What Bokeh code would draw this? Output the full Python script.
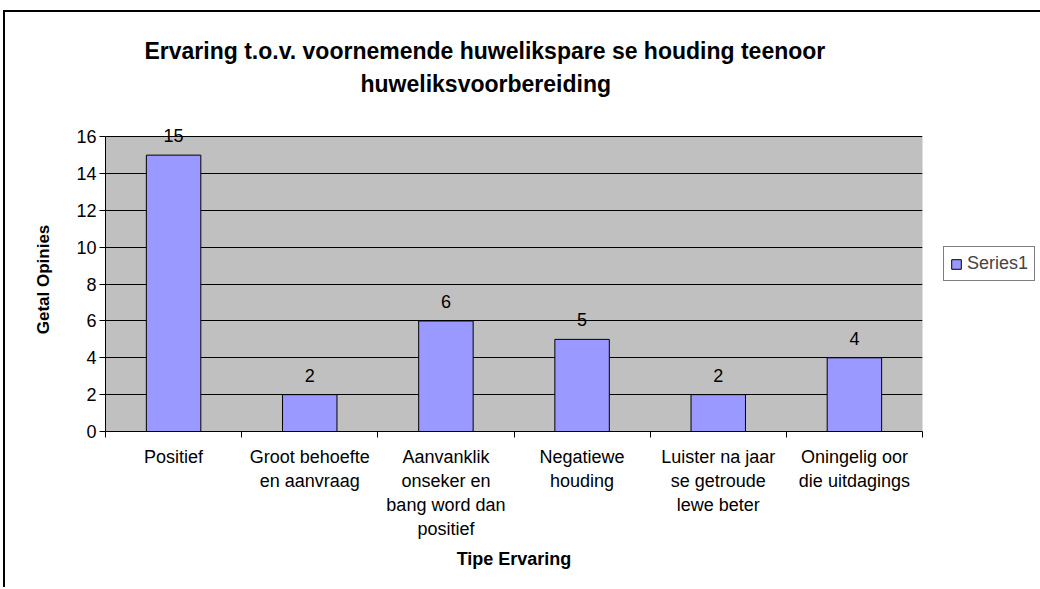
import numpy as np
from bokeh.plotting import figure
from bokeh.models import (Range1d, FixedTicker, ColumnDataSource, LabelSet, Title,
                          Legend, LegendItem, BoxAnnotation)
from bokeh.core.properties import value
from bokeh.embed import file_html
from bokeh.resources import INLINE

# ---- data ----
categories = [
    "Positief",
    "Groot behoefte\nen aanvraag",
    "Aanvanklik\nonseker en\nbang word dan\npositief",
    "Negatiewe\nhouding",
    "Luister na jaar\nse getroude\nlewe beter",
    "Oningelig oor\ndie uitdagings",
]
values = [15, 2, 6, 5, 2, 4]
y_ticks = [0, 2, 4, 6, 8, 10, 12, 14, 16]
series_name = "Series1"
title_lines = ["Ervaring t.o.v. voornemende huwelikspare se houding teenoor",
               "huweliksvoorbereiding"]
x_title = "Tipe Ervaring"
y_title = "Getal Opinies"

FONT = "Liberation Sans"
n = len(categories)
centers = [i + 0.5 for i in range(n)]
bounds = [float(i) for i in range(n + 1)]
y_top = y_ticks[-1]

src = ColumnDataSource(dict(x=centers, top=values, lbl=[str(v) for v in values]))

p = figure(frame_width=817, frame_height=304, output_backend="svg",
           toolbar_location=None, title=None,
           x_range=Range1d(0, n), y_range=Range1d(y_ticks[0], y_top + 0.5),
           min_border_left=100, min_border_right=117, min_border_top=115,
           min_border_bottom=156, margin=(10, 0, 0, 3),
           styles={"border-top": "2px solid black", "border-left": "2px solid black"})

p.background_fill_color = "white"
p.border_fill_color = "white"
p.outline_line_color = None

# grey plot area (0..16)
p.add_layout(BoxAnnotation(left=0, right=n, bottom=y_ticks[0], top=y_top,
                           fill_color="#C0C0C0", fill_alpha=1,
                           line_color="#808080", line_width=1, level="image"))

bars = p.vbar(x="x", top="top", width=0.4, bottom=0, source=src,
              fill_color="#9999FF", line_color="black", line_width=1)

# grid
p.xgrid.grid_line_color = None
p.ygrid.grid_line_color = "black"
p.ygrid.grid_line_width = 1

# y axis
p.yaxis.ticker = FixedTicker(ticks=y_ticks)
p.yaxis.bounds = (y_ticks[0], y_top)
p.yaxis.major_tick_out = 6
p.yaxis.major_tick_in = 0
p.yaxis.minor_tick_out = 0
p.yaxis.axis_line_color = "black"
p.yaxis.major_tick_line_color = "black"
p.yaxis.major_label_text_font = FONT
p.yaxis.major_label_text_font_size = "18px"
p.yaxis.major_label_text_color = "black"
p.yaxis.major_label_standoff = 3
p.yaxis.axis_label = y_title
p.yaxis.axis_label_text_font = FONT
p.yaxis.axis_label_text_font_style = "bold"
p.yaxis.axis_label_text_font_size = "17px"
p.yaxis.axis_label_text_color = "black"
p.yaxis.axis_label_standoff = 20

# x axis
p.xaxis.ticker = FixedTicker(ticks=centers, minor_ticks=bounds)
p.xaxis.major_label_overrides = {c: lab for c, lab in zip(centers, categories)}
p.xaxis.major_tick_out = 0
p.xaxis.major_tick_in = 0
p.xaxis.minor_tick_out = 6
p.xaxis.minor_tick_in = 0
p.xaxis.minor_tick_line_color = "black"
p.xaxis.axis_line_color = "black"
p.xaxis.major_label_text_font = FONT
p.xaxis.major_label_text_font_size = "18px"
p.xaxis.major_label_text_color = "black"
p.xaxis.major_label_text_line_height = 1.2
p.xaxis.major_label_standoff = 9
p.xaxis.axis_label = x_title
p.xaxis.axis_label_text_font = FONT
p.xaxis.axis_label_text_font_style = "bold"
p.xaxis.axis_label_text_font_size = "18px"
p.xaxis.axis_label_text_color = "black"
p.xaxis.axis_label_standoff = 7

# value labels
labels = LabelSet(x="x", y="top", text="lbl", source=src, text_align="center",
                  text_baseline="bottom", y_offset=13, text_font=value(FONT),
                  text_font_size="18px", text_color="black")
p.add_layout(labels)

# title: two lines, first added is nearest the frame
t2 = Title(text=title_lines[1], align="left", offset=255, standoff=62,
           text_font=FONT, text_font_style="bold", text_font_size="23px",
           text_color="black")
t1 = Title(text=title_lines[0], align="left", offset=39, standoff=-53,
           text_font=FONT, text_font_style="bold", text_font_size="23px",
           text_color="black")
p.add_layout(t2, "above")
p.add_layout(t1, "above")

# legend
legend = Legend(items=[LegendItem(label=series_name, renderers=[bars])],
                location=(21, 150), orientation="vertical",
                label_text_font=FONT, label_text_font_size="18px",
                glyph_width=12, glyph_height=12, label_standoff=5,
                padding=6, margin=0, spacing=0, label_height=16,
                border_line_color="black", border_line_width=1,
                background_fill_color="white", background_fill_alpha=1)
p.add_layout(legend, "right")

open("out.html", "w").write(file_html(p, INLINE))
